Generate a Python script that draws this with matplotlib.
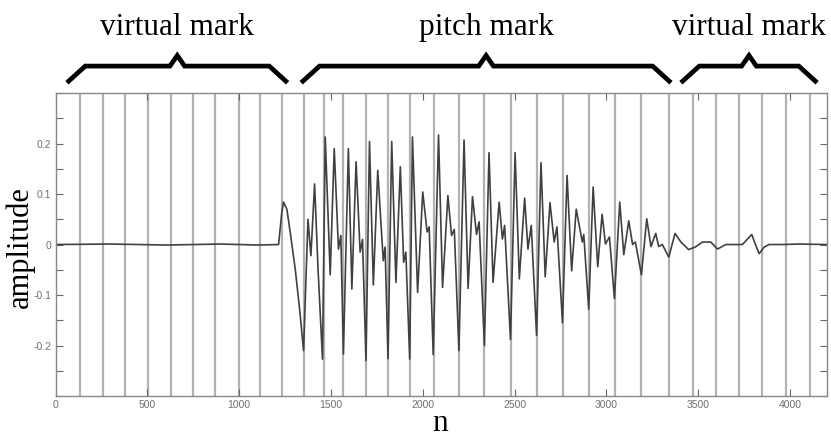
import matplotlib
matplotlib.use("Agg")
import matplotlib.pyplot as plt
from matplotlib.ticker import MultipleLocator, FixedLocator, FixedFormatter

# waveform vertices (sample index n, amplitude)
wave_n = [0, 300, 600, 900, 1100, 1215,
          1232, 1242, 1260, 1280, 1306, 1330, 1351,
          1375, 1391, 1411, 1430, 1454,
          1469, 1496, 1518, 1541, 1554, 1568,
          1595, 1614, 1637, 1659, 1672, 1691,
          1710, 1731, 1755, 1785, 1795, 1811,
          1831, 1854, 1878, 1896, 1908, 1929,
          1944, 1972, 2000, 2024, 2035, 2057,
          2086, 2108, 2137, 2157, 2172, 2197,
          2225, 2247, 2271, 2293, 2307, 2336,
          2361, 2383, 2416, 2434, 2446, 2478,
          2503, 2526, 2555, 2573, 2591, 2620,
          2644, 2667, 2693, 2716, 2731, 2761,
          2786, 2811, 2836, 2869, 2877, 2904,
          2928, 2953, 2977, 2995, 3017, 3044,
          3073, 3095, 3122, 3143, 3158, 3191,
          3220, 3243, 3269, 3285, 3305, 3340,
          3374, 3406, 3448, 3484, 3524, 3569, 3605, 3651, 3741,
          3792, 3812, 3832, 3860, 3886, 3958, 4050, 4200]
wave_amp = [0.0, 0.001, -0.001, 0.001, -0.001, 0.0,
            0.062, 0.084, 0.07, 0.02, -0.05, -0.13, -0.21,
            0.05, -0.022, 0.12, -0.05, -0.227,
            0.213, -0.06, 0.19, -0.009, 0.018, -0.217,
            0.19, -0.088, 0.164, -0.015, 0.01, -0.23,
            0.204, -0.08, 0.147, -0.032, -0.005, -0.226,
            0.204, -0.075, 0.154, -0.035, -0.015, -0.227,
            0.213, -0.095, 0.104, 0.025, 0.035, -0.218,
            0.217, -0.085, 0.097, 0.018, 0.03, -0.21,
            0.207, -0.087, 0.095, 0.02, 0.045, -0.2,
            0.182, -0.075, 0.084, 0.011, 0.038, -0.188,
            0.182, -0.068, 0.092, -0.009, 0.038, -0.18,
            0.162, -0.064, 0.083, 0.005, 0.035, -0.155,
            0.137, -0.052, 0.07, 0.005, 0.02, -0.128,
            0.114, -0.044, 0.06, 0.001, 0.015, -0.107,
            0.084, -0.02, 0.047, 0.0, 0.005, -0.06,
            0.051, -0.004, 0.022, -0.004, 0.0, -0.025,
            0.022, 0.005, -0.01, -0.005, 0.005, 0.005, -0.009, 0.0, 0.0,
            0.02, 0.0, -0.018, -0.005, 0.0, 0.0, 0.001, 0.0]

# positions of the vertical marks
marks = [134, 257, 379, 506, 627, 747, 871, 998, 1116, 1232,
         1351, 1460, 1568, 1691, 1813, 1930, 2062, 2197, 2334, 2479,
         2622, 2763, 2904, 3049, 3189, 3343,
         3470, 3596, 3723, 3850, 3977, 4109]

# brace spans above the plot (n from, n to) and their labels
brace_spans = [(62, 1264), (1338, 3352), (3406, 4148)]
brace_labels = ["virtual mark", "pitch mark", "virtual mark"]

x_ticks = [0, 500, 1000, 1500, 2000, 2500, 3000, 3500, 4000]
y_ticks = [-0.2, -0.1, 0, 0.1, 0.2]
y_tick_labels = ["-0.2", "-0.1", "0", "0.1", "0.2"]

serif = "Liberation Serif"
fig = plt.figure(figsize=(8.31, 4.41), dpi=100)
ax = fig.add_axes([0.0668, 0.102, 0.928, 0.687])

for m in marks:
    ax.axvline(m, color="#b2b2b2", lw=1.6, zorder=1)
ax.plot(wave_n, wave_amp, color="#404040", lw=1.2, zorder=2)

ax.set_xlim(0, 4200)
ax.set_ylim(-0.3, 0.3)
ax.xaxis.set_major_locator(FixedLocator(x_ticks))
ax.yaxis.set_major_locator(FixedLocator(y_ticks))
ax.yaxis.set_major_formatter(FixedFormatter(y_tick_labels))
ax.yaxis.set_minor_locator(MultipleLocator(0.05))
ax.tick_params(which="both", direction="in", top=True, right=True,
               length=5, width=0.8, color="#666666",
               labelsize=7.5, labelcolor="#707070", pad=3)
for lab in ax.get_xticklabels() + ax.get_yticklabels():
    lab.set_family("Liberation Sans")
for s in ax.spines.values():
    s.set_color("#888888")
    s.set_linewidth(1.0)

# braces in data x / axes y
tr = ax.get_xaxis_transform()
for (a, b), label in zip(brace_spans, brace_labels):
    c = (a + b) / 2
    xs = [a, a + 100, c - 40, c, c + 40, b - 100, b]
    ys = [1.034, 1.089, 1.089, 1.124, 1.089, 1.089, 1.034]
    ax.plot(xs, ys, color="black", lw=3.4, transform=tr, clip_on=False,
            solid_joinstyle="miter", solid_capstyle="butt")
    ax.text(c, 1.19, label, transform=tr, ha="center", va="baseline",
            fontsize=22.5, family=serif)

fig.text(0.024, 0.44, "amplitude", rotation=90, ha="center", va="center",
         fontsize=22, family=serif)
fig.text(0.529, 0.04, "n", ha="center", va="center",
         fontsize=22.5, family=serif)

fig.savefig("out.png", dpi=100)
